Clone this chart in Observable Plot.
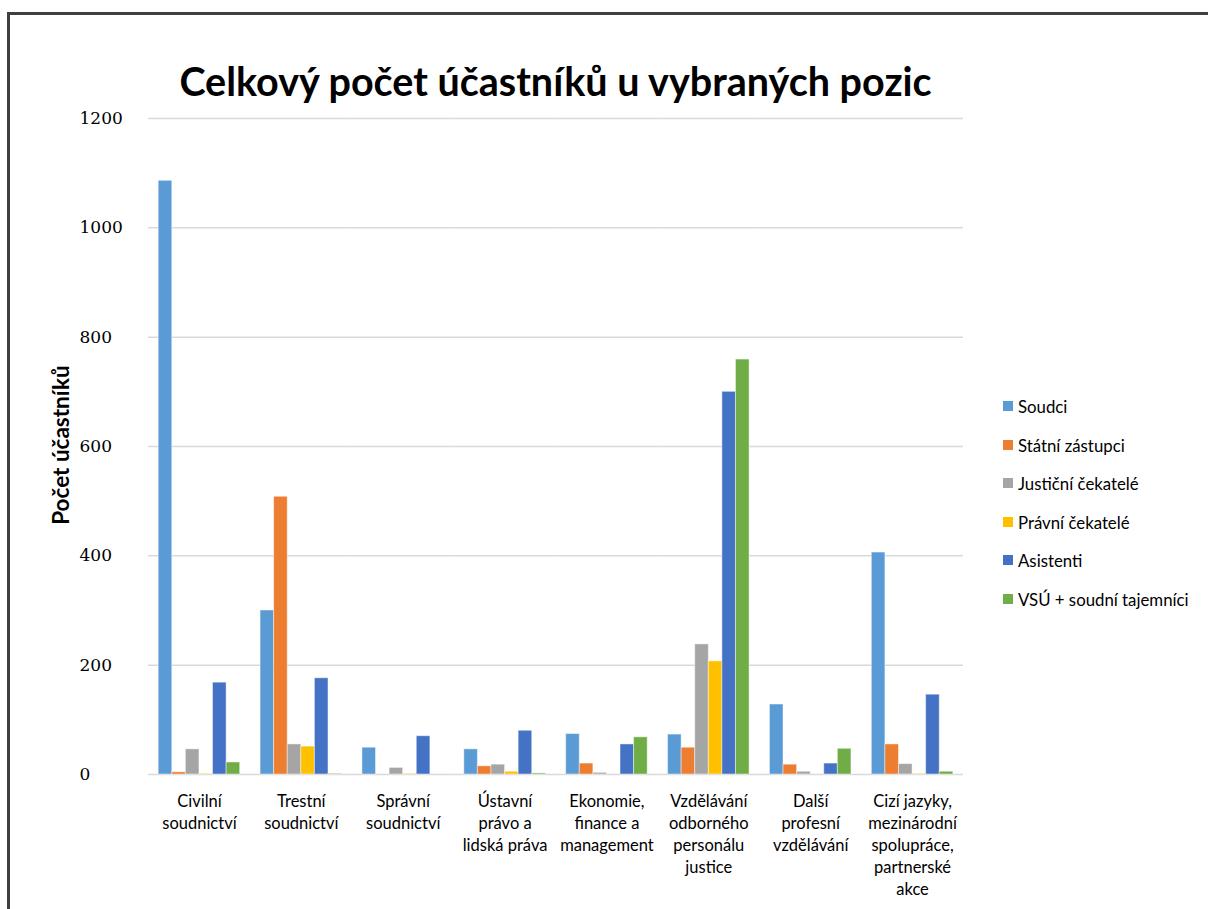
<!DOCTYPE html>
<html>
<head>
<meta charset="utf-8">
<script src="https://cdn.jsdelivr.net/npm/d3@7"></script>
<script src="https://cdn.jsdelivr.net/npm/@observablehq/plot@0.6"></script>
<style>
  html, body { margin: 0; padding: 0; background: #fff; }
  #wrap { position: relative; width: 1208px; height: 909px; overflow: hidden; font-family: Lato, "Open Sans", sans-serif; }
  #frame { position: absolute; left: 7px; top: 12px; width: 1300px; height: 1000px; border-left: 3px solid #404040; border-top: 3px solid #404040; box-sizing: border-box; }
  #title { position: absolute; left: 0; width: 1111px; top: 57px; text-align: center; font-weight: bold; font-size: 39.5px; color: #000; white-space: nowrap; }
  #ylabel { position: absolute; left: 60px; top: 445px; transform: translate(-50%, -50%) rotate(-90deg); font-weight: bold; font-size: 22.5px; white-space: nowrap; color: #000; }
  #legend { position: absolute; left: 1003px; top: 396px; }
  .li { height: 38.6px; display: flex; align-items: flex-start; font-size: 16.8px; color: #000; white-space: nowrap; }
  .sw { width: 10px; height: 10px; margin-right: 5px; margin-top: 5px; flex: none; }
  #chart { position: absolute; left: 0; top: 0; }
</style>
</head>
<body>
<div id="wrap">
  <div id="chart"></div>
  <div id="frame"></div>
  <div id="title">Celkový počet účastníků u vybraných pozic</div>
  <div id="ylabel">Počet účastníků</div>
  <div id="legend"></div>
</div>
<script>
const categories = ["Civilní soudnictví", "Trestní soudnictví", "Správní soudnictví", "Ústavní právo a lidská práva", "Ekonomie, finance a management", "Vzdělávání odborného personálu justice", "Další profesní vzdělávání", "Cizí jazyky, mezinárodní spolupráce, partnerské akce"];
const categoryLabels = ["Civilní\nsoudnictví", "Trestní\nsoudnictví", "Správní\nsoudnictví", "Ústavní\nprávo a\nlidská práva", "Ekonomie,\nfinance a\nmanagement", "Vzdělávání\nodborného\npersonálu\njustice", "Další\nprofesní\nvzdělávání", "Cizí jazyky,\nmezinárodní\nspolupráce,\npartnerské\nakce"];
const seriesNames = ["Soudci", "Státní zástupci", "Justiční čekatelé", "Právní čekatelé", "Asistenti", "VSÚ + soudní tajemníci"];
const seriesColors = ["#5B9BD5", "#ED7D31", "#A5A5A5", "#FFC000", "#4472C4", "#70AD47"];

const soudci = [1086, 300, 49, 46, 74, 73, 128, 406];
const statniZastupci = [4, 508, 0, 15, 20, 49, 18, 55];
const justicniCekatele = [46, 55, 12, 18, 3, 238, 5, 19];
const pravniCekatele = [1, 51, 1, 5, 0, 207, 0, 1];
const asistenti = [168, 176, 70, 80, 55, 700, 20, 146];
const vsuTajemnici = [22, 1, 0, 2, 68, 759, 47, 5];

const yTicks = [0, 200, 400, 600, 800, 1000, 1200];

const seriesValues = [soudci, statniZastupci, justicniCekatele, pravniCekatele, asistenti, vsuTajemnici];
const data = [];
categories.forEach((c, i) => {
  seriesNames.forEach((s, j) => {
    data.push({category: c, series: s, value: seriesValues[j][i]});
  });
});
const labelOf = new Map(categories.map((c, i) => [c, categoryLabels[i]]));

const chart = Plot.plot({
  width: 1208,
  height: 909,
  marginLeft: 148,
  marginRight: 245,
  marginTop: 118,
  marginBottom: 135,
  style: {fontFamily: "Lato, 'Open Sans', sans-serif", background: "transparent"},
  fx: {domain: categories, padding: 0, round: false},
  x: {domain: seriesNames, paddingInner: 0, paddingOuter: 0.75, round: false, axis: null},
  y: {domain: [0, 1200], ticks: yTicks},
  color: {domain: seriesNames, range: seriesColors},
  marks: [
    Plot.gridY(yTicks, {stroke: "#d9d9d9", strokeOpacity: 1, strokeWidth: 1.5}),
    Plot.axisY(yTicks, {
      tickSize: 0, tickPadding: 69, textAnchor: "start", tickFormat: d => String(d),
      fontFamily: "'DejaVu Serif', 'Liberation Serif', serif", fontSize: 17,
      fill: "#000", label: null
    }),
    Plot.axisFx({
      anchor: "bottom", tickSize: 0, tickPadding: 17, fontSize: 16.5, lineHeight: 1.333,
      fill: "#000", label: null, tickFormat: d => labelOf.get(d)
    }),
    Plot.barY(data, {
      fx: "category", x: "series", y: "value", fill: "series",
      stroke: "#ffffff", strokeOpacity: 0.45, strokeWidth: 1
    })
  ]
});
document.getElementById("chart").appendChild(chart);

const legend = document.getElementById("legend");
seriesNames.forEach((s, j) => {
  const row = document.createElement("div");
  row.className = "li";
  const sw = document.createElement("div");
  sw.className = "sw";
  sw.style.background = seriesColors[j];
  const t = document.createElement("span");
  t.textContent = s;
  row.appendChild(sw);
  row.appendChild(t);
  legend.appendChild(row);
});
</script>
</body>
</html>
